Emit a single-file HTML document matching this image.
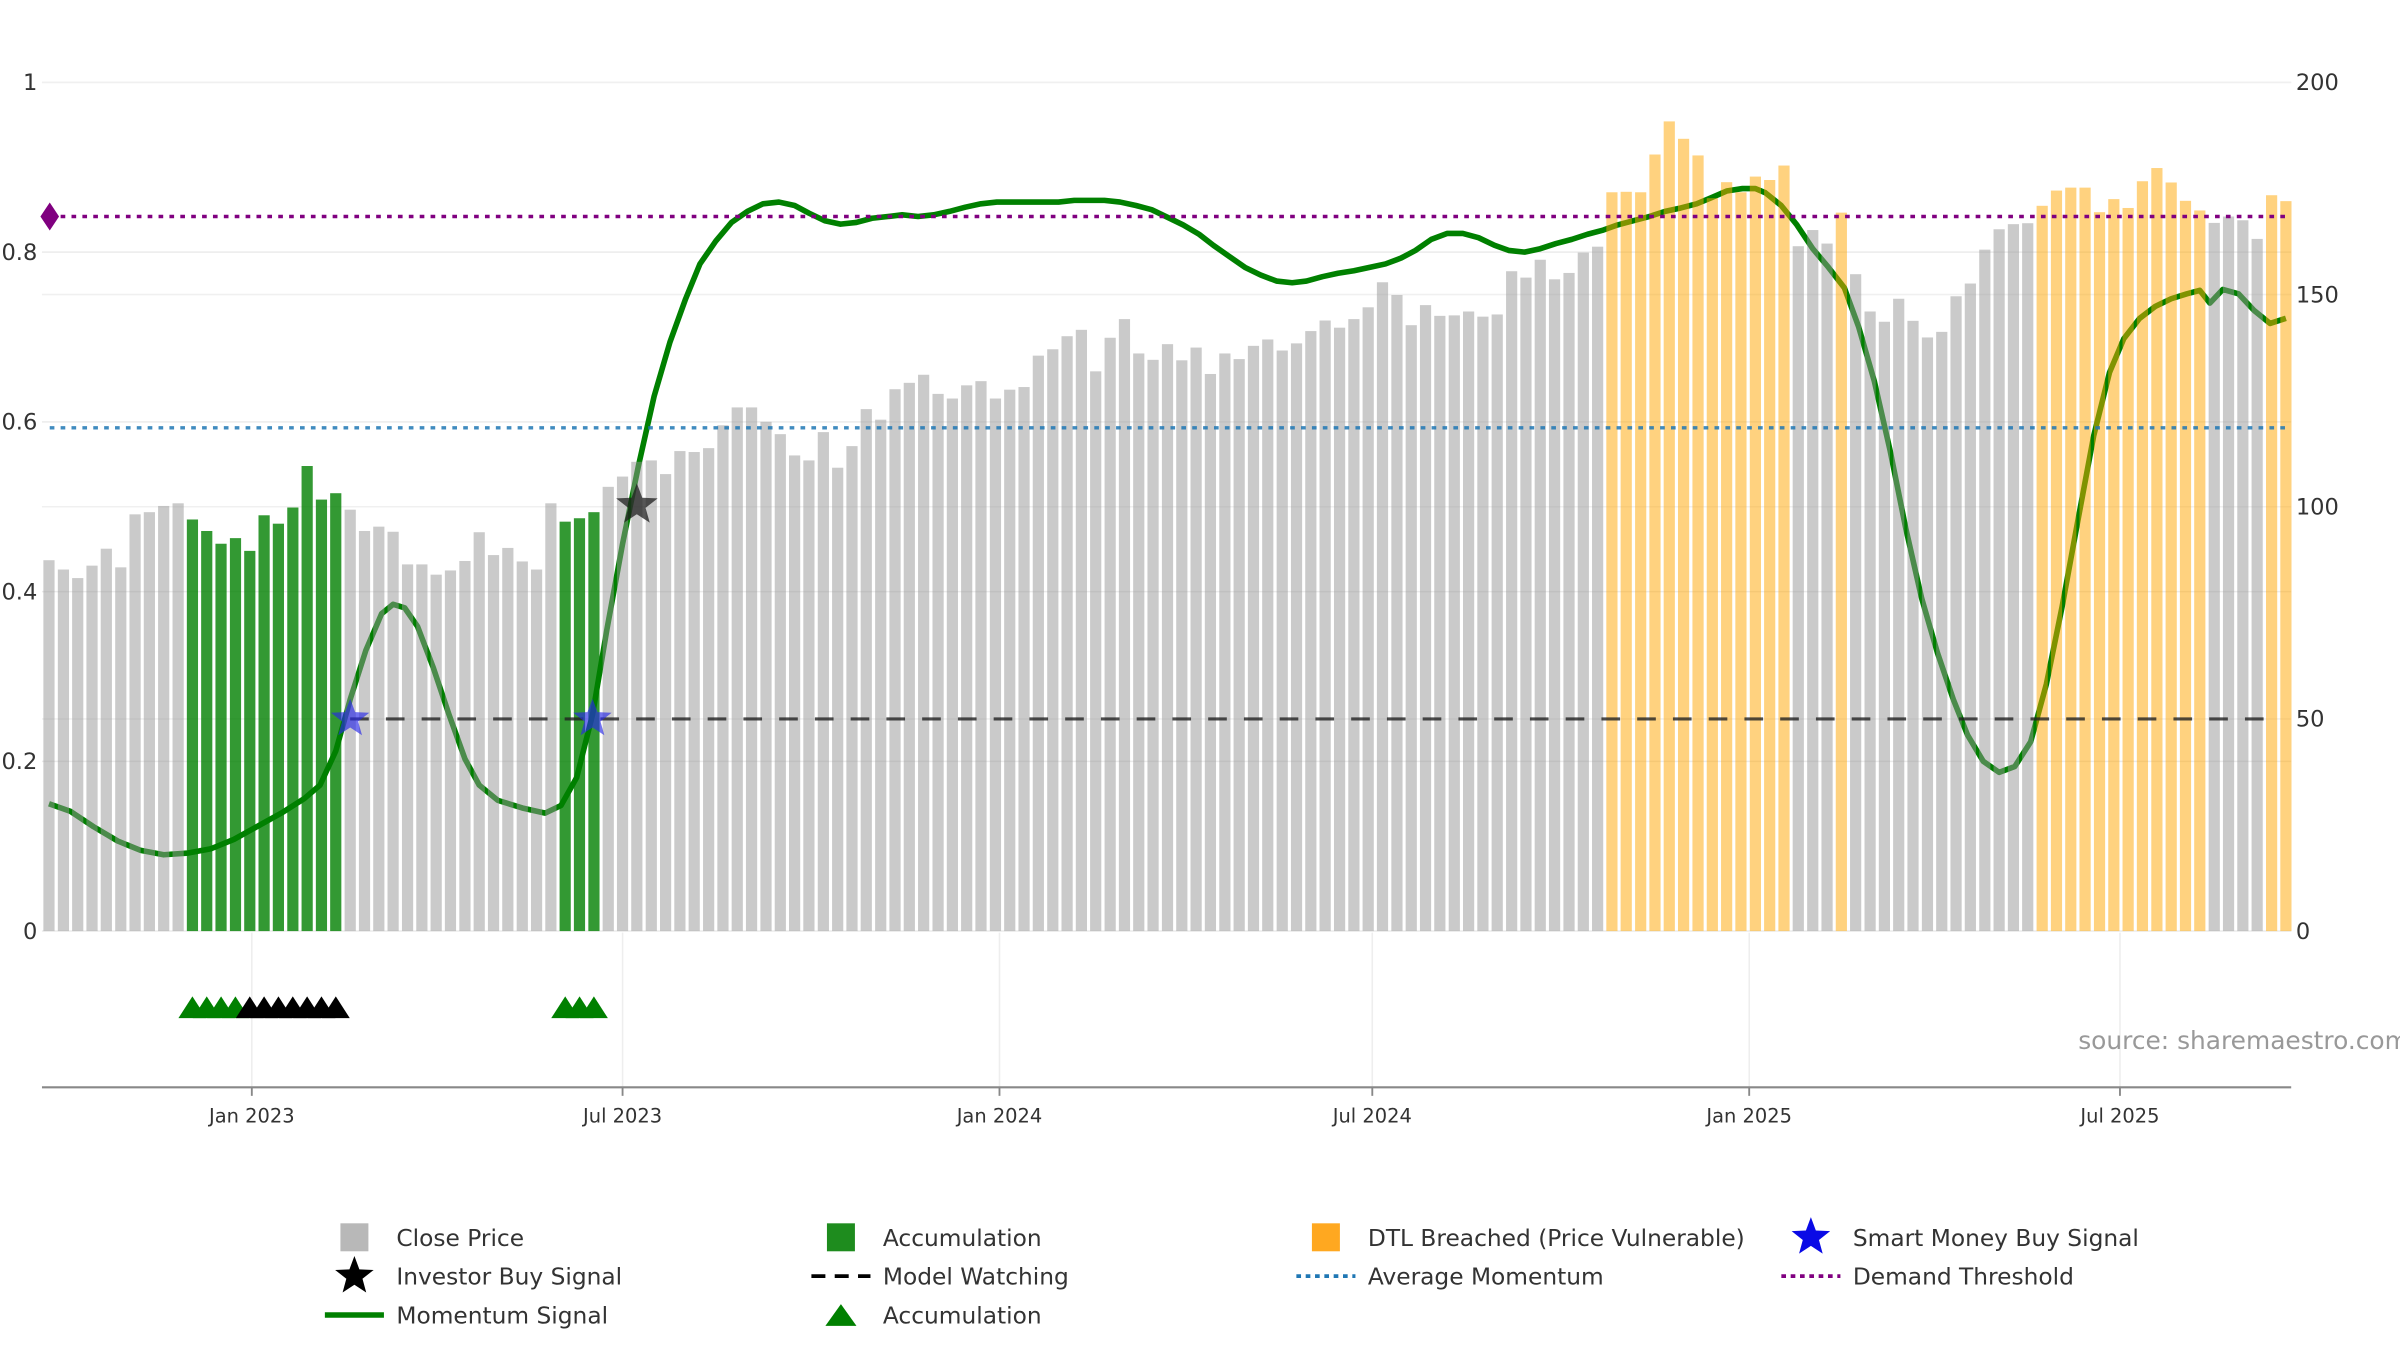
<!DOCTYPE html>
<html><head><meta charset="utf-8"><title>ShareMaestro chart</title>
<style>
html,body{margin:0;padding:0;background:#fff;}
svg{display:block;font-family:"DejaVu Sans","Liberation Sans",sans-serif;}
</style></head>
<body>
<svg id="chart" width="2400" height="1350" viewBox="0 0 1544 868.5" preserveAspectRatio="none" xmlns="http://www.w3.org/2000/svg">
<rect x="0" y="0" width="1544" height="868.5" fill="#fff"/>
<g id="grid"></g>
<g id="lineLayer"></g>
<g id="barLayer"></g>
<g id="overlay"></g>
<g id="axes"></g>
<text x="1337" y="675" font-size="16" fill="#999">source: sharemaestro.com</text>
<g id="legend"></g>
</svg>
<script>
// ---- data ----
const startDay = -99; // first bar: days relative to 2023-01-01
const closePrices = [87.4,85.2,83.2,86.1,90.1,85.7,98.2,98.7,100.2,100.8,
97.0,94.3,91.3,92.6,89.6,98.0,96.0,99.8,109.6,101.7,103.2,
99.3,94.3,95.3,94.1,86.4,86.4,84.0,85.0,87.2,94.0,88.6,90.3,87.1,85.2,
100.8,96.5,97.3,98.7,
104.7,107.1,110.6,110.9,107.7,113.1,112.9,113.8,119.2,123.4,123.4,120.0,117.1,112.1,110.9,117.6,109.2,114.3,123.0,120.5,127.7,129.2,131.1,126.6,125.5,128.6,129.6,125.5,127.6,128.2,135.6,137.1,140.2,141.7,131.9,139.8,144.2,136.1,134.6,138.3,134.5,137.5,131.3,
136.1,134.8,137.9,139.4,136.8,138.5,141.4,143.9,142.2,144.2,147.0,152.9,149.9,142.8,147.5,145.0,145.1,146.0,144.8,145.3,155.5,154.0,158.2,153.6,155.1,159.9,161.3,
174.1,174.2,174.1,183.0,190.8,186.7,182.8,172.7,176.5,174.1,177.8,177.0,180.4,
161.4,165.2,162.0,169.3,
154.8,146.0,143.6,149.0,143.8,139.9,141.2,149.6,152.6,160.6,165.4,166.6,166.8,
170.9,174.5,175.2,175.2,169.4,172.5,170.4,176.7,179.8,176.4,172.1,169.8,
166.9,168.4,167.5,163.1,173.4,172.0];
const barTypeRuns = [["close",10],["acc",11],["close",15],["acc",3],["close",70],["dtl",13],["close",3],["dtl",1],["close",13],["dtl",12],["close",4],["dtl",2]];
const momentumWeek = [0,1.5,3.1,4.8,6.4,8.0,9.7,11.3,12.9,14.5,16.2,17.8,18.9,20.0,21.0,22.1,23.2,24.0,24.8,25.7,26.8,27.9,29.0,30.0,31.3,33.0,34.6,35.7,36.8,37.9,38.9,40.0,41.1,42.2,43.3,44.4,45.4,46.5,47.6,48.7,49.8,50.9,52.0,53.0,54.1,55.2,56.3,57.4,58.5,59.5,60.6,61.7,62.8,63.9,65.0,66.1,68.2,70.4,71.5,73.6,74.7,75.8,76.9,78.0,79.1,80.2,81.2,82.3,83.4,84.5,85.6,86.7,87.7,88.8,89.9,91.0,92.1,93.2,94.3,95.3,96.4,97.5,98.6,99.7,100.8,101.8,102.9,104.0,105.1,106.2,107.3,108.4,109.4,110.5,111.6,112.7,113.8,114.9,115.9,117.0,118.1,119.0,119.7,120.8,121.9,123.0,124.1,125.2,126.2,127.3,128.4,129.5,130.6,131.7,132.8,133.8,134.9,136.0,137.1,138.2,139.3,140.4,141.5,142.6,143.7,144.7,145.8,146.9,148.0,149.1,150.0,150.7,151.6,152.7,153.8,154.9,156.0];
const momentumValues = [0.150,0.141,0.123,0.106,0.095,0.090,0.092,0.097,0.108,0.123,0.139,0.156,0.172,0.212,0.273,0.331,0.374,0.385,0.381,0.359,0.310,0.255,0.203,0.172,0.154,0.145,0.139,0.148,0.181,0.255,0.355,0.456,0.548,0.630,0.694,0.745,0.786,0.813,0.835,0.848,0.857,0.859,0.855,0.846,0.837,0.833,0.835,0.840,0.842,0.844,0.842,0.844,0.848,0.853,0.857,0.859,0.859,0.859,0.861,0.861,0.859,0.855,0.850,0.841,0.832,0.821,0.808,0.795,0.782,0.773,0.766,0.764,0.766,0.771,0.775,0.778,0.782,0.786,0.793,0.802,0.815,0.822,0.822,0.817,0.808,0.802,0.800,0.804,0.810,0.815,0.821,0.826,0.832,0.837,0.842,0.848,0.852,0.857,0.864,0.872,0.875,0.875,0.870,0.855,0.832,0.804,0.782,0.758,0.712,0.648,0.566,0.474,0.392,0.328,0.273,0.231,0.200,0.187,0.194,0.223,0.291,0.383,0.484,0.584,0.658,0.698,0.722,0.736,0.745,0.751,0.755,0.740,0.756,0.751,0.731,0.716,0.722];
const smartMoneyWeeks = [21.0, 37.9];
const investorBuyWeeks = [41.0];
const investorBuyValues = [0.502];
const accTriangleWeeks = [10,11,12,13,36,37,38];
const blackTriangleWeeks = [14,15,16,17,18,19,20];
const modelWatchingLevel = 0.25;
const modelWatchingStartWeek = 21.0;
const averageMomentum = 0.593;
const demandThreshold = 0.842;
const leftTicks = [0,0.2,0.4,0.6,0.8,1];
const leftTickLabels = ["0","0.2","0.4","0.6","0.8","1"];
const rightTicks = [0,50,100,150,200];
const xTickDays = [0,181,365,547,731,912];
const xTickLabels = ["Jan 2023","Jul 2023","Jan 2024","Jul 2024","Jan 2025","Jul 2025"];

// ---- scales ----
const NS = "http://www.w3.org/2000/svg";
const plotL = 27, plotR = 1474, yZero = 599, yTop = 53;
function xDay(d){ return 162 + d * 481 / 365; }
function xWeek(w){ return xDay(startDay + 7 * w); }
function yLeft(v){ return yZero - v * (yZero - yTop); }
function yRight(p){ return yZero - p / 200 * (yZero - yTop); }
function mk(tag, attrs, parent){ const e = document.createElementNS(NS, tag); for (const k in attrs) e.setAttribute(k, attrs[k]); parent.appendChild(e); return e; }
const grid = document.getElementById('grid'), lineLayer = document.getElementById('lineLayer'), barLayer = document.getElementById('barLayer'), overlay = document.getElementById('overlay'), axes = document.getElementById('axes'), legend = document.getElementById('legend');

// grid
leftTicks.forEach(function(t){ const l = mk('line', {x1:plotL, x2:plotR, y1:yLeft(t), y2:yLeft(t), stroke:'#ebebeb', 'stroke-width':1}, grid);

 });
rightTicks.forEach(function(t){ const l = mk('line', {x1:plotL, x2:plotR, y1:yRight(t), y2:yRight(t), stroke:'#f0f0f0', 'stroke-width':1}, grid);

 });
xTickDays.forEach(function(d){ const l = mk('line', {x1:xDay(d), x2:xDay(d), y1:600, y2:699, stroke:'#eeeeee', 'stroke-width':1}, grid);

 });

// momentum line (under bars)
let dStr = '';
momentumWeek.forEach(function(w, i){ dStr += (i ? 'L' : 'M') + xWeek(w).toFixed(1) + ',' + yLeft(momentumValues[i]).toFixed(1); });
const ml = mk('path', {d:dStr, fill:'none', stroke:'#008000', 'stroke-width':3.6, 'stroke-linejoin':'round'}, lineLayer);



// bars
const types = [];
barTypeRuns.forEach(function(r){ for (let k = 0; k < r[1]; k++) types.push(r[0]); });
const colors = {close:'rgba(150,150,150,0.5)', acc:'rgba(0,128,0,0.8)', dtl:'rgba(255,165,0,0.5)'};
closePrices.forEach(function(p, i){
  const x = xWeek(i), t = types[i] || 'close';
  const b = mk('rect', {x:(x - 3.6).toFixed(1), y:yRight(p).toFixed(1), width:7.2, height:(yZero - yRight(p)).toFixed(1), fill:colors[t]}, barLayer);
  
  
});

// reference lines
const dl = mk('line', {x1:32, x2:1470, y1:yLeft(demandThreshold), y2:yLeft(demandThreshold), stroke:'#800080', 'stroke-width':2.2, 'stroke-dasharray':'3,4'}, overlay);


const dm = mk('path', {d:'M32,' + (yLeft(demandThreshold) - 9) + ' l6,9 l-6,9 l-6,-9 z', fill:'#800080'}, overlay);


const al = mk('line', {x1:32, x2:1470, y1:yLeft(averageMomentum), y2:yLeft(averageMomentum), stroke:'#1f77b4', 'stroke-opacity':0.85, 'stroke-width':2.2, 'stroke-dasharray':'3,4'}, overlay);


const mw = mk('line', {x1:xWeek(modelWatchingStartWeek), x2:1462, y1:yLeft(modelWatchingLevel), y2:yLeft(modelWatchingLevel), stroke:'#222', 'stroke-opacity':0.8, 'stroke-width':2, 'stroke-dasharray':'12,11'}, overlay);



function starPath(cx, cy, R){ const r = R * 0.42; let s = ''; for (let k = 0; k < 10; k++){ const a = -Math.PI/2 + k * Math.PI/5; const rr = k % 2 ? r : R; s += (k ? 'L' : 'M') + (cx + rr*Math.cos(a)).toFixed(1) + ',' + (cy + rr*Math.sin(a)).toFixed(1); } return s + 'Z'; }
smartMoneyWeeks.forEach(function(w){ const s = mk('path', {d:starPath(xWeek(w), yLeft(modelWatchingLevel), 13), fill:'rgba(40,40,230,0.65)'}, overlay);

 });
investorBuyWeeks.forEach(function(w, i){ const s = mk('path', {d:starPath(xWeek(w), yLeft(investorBuyValues[i]), 14), fill:'rgba(30,30,30,0.75)'}, overlay);

 });

function tri(cx, cy, fill){ return mk('path', {d:'M' + (cx - 9) + ',' + (cy + 7) + ' L' + cx + ',' + (cy - 7) + ' L' + (cx + 9) + ',' + (cy + 7) + ' Z', fill:fill}, overlay); }
accTriangleWeeks.forEach(function(w){ const t = tri(xWeek(w), 648, '#008000');

 });
blackTriangleWeeks.forEach(function(w){ const t = tri(xWeek(w), 648, '#000');

 });

// axes
const xa = mk('line', {x1:plotL, x2:plotR, y1:699.5, y2:699.5, stroke:'#888', 'stroke-width':1.3}, axes);


xTickDays.forEach(function(d, i){
  const tk = mk('line', {x1:xDay(d), x2:xDay(d), y1:699, y2:705, stroke:'#888', 'stroke-width':1.2}, axes);
  
  
  const t = mk('text', {x:xDay(d), y:722, 'font-size':12.5, fill:'#333', 'text-anchor':'middle'}, axes);
  t.textContent = xTickLabels[i];
  
  
});
leftTicks.forEach(function(v, i){
  const t = mk('text', {x:24, y:yLeft(v) + 5, 'font-size':14.5, fill:'#333', 'text-anchor':'end'}, axes);
  t.textContent = leftTickLabels[i];
  
  
});
rightTicks.forEach(function(v){
  const t = mk('text', {x:1477, y:yRight(v) + 5, 'font-size':14.5, fill:'#333'}, axes);
  t.textContent = String(v);
  
  
});

// legend
const legendItems = [
 [228,796,'square','#b8b8b8','Close Price'],[541,796,'square','#1e8c1e','Accumulation'],[853,796,'square','#ffa820','DTL Breached (Price Vulnerable)'],[1165,796,'star','#0a0ae6','Smart Money Buy Signal'],
 [228,821,'star','#000','Investor Buy Signal'],[541,821,'dash','#000','Model Watching'],[853,821,'dot','#1f77b4','Average Momentum'],[1165,821,'dot','#800080','Demand Threshold'],
 [228,846,'line','#008000','Momentum Signal'],[541,846,'tri','#008000','Accumulation']];
legendItems.forEach(function(it){
  const x = it[0], y = it[1], c = it[3];
  let m;
  if (it[2] === 'square') m = mk('rect', {x:x - 9, y:y - 9, width:18, height:18, fill:c}, legend);
  else if (it[2] === 'star') m = mk('path', {d:starPath(x, y, 13), fill:c}, legend);
  else if (it[2] === 'dash') m = mk('line', {x1:x - 19, x2:x + 19, y1:y, y2:y, stroke:c, 'stroke-width':2.4, 'stroke-dasharray':'9,6'}, legend);
  else if (it[2] === 'dot') m = mk('line', {x1:x - 19, x2:x + 19, y1:y, y2:y, stroke:c, 'stroke-width':2.4, 'stroke-dasharray':'3,3'}, legend);
  else if (it[2] === 'line') m = mk('line', {x1:x - 19, x2:x + 19, y1:y, y2:y, stroke:c, 'stroke-width':3.5}, legend);
  else m = mk('path', {d:'M' + (x - 10) + ',' + (y + 7) + ' L' + x + ',' + (y - 7) + ' L' + (x + 10) + ',' + (y + 7) + ' Z', fill:c}, legend);
  
  
  const t = mk('text', {x:x + 27, y:y + 5.5, 'font-size':15, fill:'#333'}, legend);
  t.textContent = it[4];
  
  
});
</script>
</body></html>
